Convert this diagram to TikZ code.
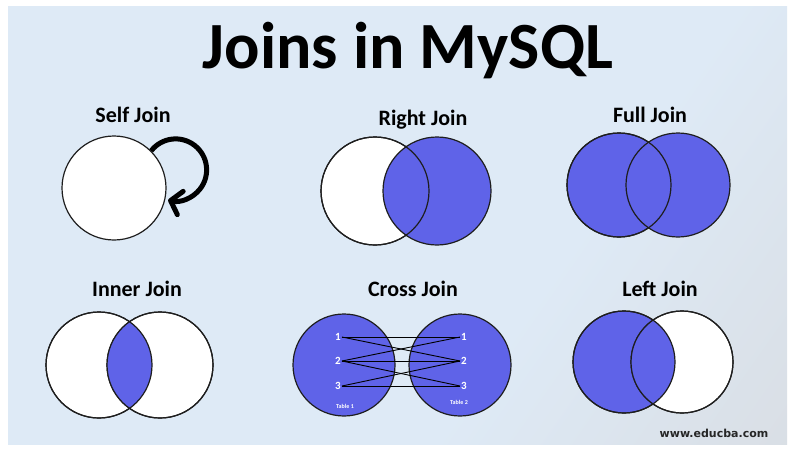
\documentclass[tikz,border=0pt]{standalone}
\usepackage{fontspec}
\setmainfont{Carlito}
\newfontfamily\webfont{DejaVu Sans}
\usepackage{tikz}
\usepackage{xcolor}
\usetikzlibrary{arrows.meta}
\definecolor{join-blue}{RGB}{95,99,232}
\definecolor{panel-blue}{RGB}{222,234,246}
\definecolor{panel-grey}{RGB}{214,215,218}
\definecolor{rim}{RGB}{30,30,30}
\pgfdeclarehorizontalshading{panel-shade}{100bp}{color(0bp)=(panel-blue); color(62bp)=(panel-blue); color(100bp)=(panel-grey)}
\tikzset{
    venn-white/.style = {circle, draw=rim, fill=white, line width=1.2pt, minimum size=104pt, inner sep=0pt},
    venn-blue/.style = {venn-white, fill=join-blue},
    rim-line/.style = {draw=rim, line width=1.2pt},
    join-title/.style = {anchor=base, font=\fontsize{22}{26}\selectfont\bfseries},
    row-number/.style = {text=white, font=\fontsize{11}{12}\selectfont\bfseries, inner sep=1pt},
    table-name/.style = {text=white, font=\fontsize{6}{7}\selectfont\bfseries},
    cross-line/.style = {draw=black, line width=0.9pt},
}

\begin{document}
\begin{tikzpicture}[x=1pt, y=-1pt]
\fill[white] (0,0) rectangle (797,453);
\shade[shading=panel-shade, shading angle=-35] (8,6) rectangle (787,444);
\useasboundingbox (0,0) rectangle (797,453);

\node[anchor=base, font=\fontsize{66}{70}\selectfont\bfseries] (title) at (408,68) {Joins in MySQL};

% self join
\node[join-title] (self-title) at (133,122) {Self Join};
\node[venn-white] (self) at (114,188) {};
\draw[line width=5pt, -{Straight Barb[length=10pt,width=24pt,round]}]
    (self.45) arc[start angle=142, end angle=-104, radius=31pt];

% right join
\node[join-title] (right-title) at (423,125) {Right Join};
\node[venn-white, minimum size=108pt] (right-a) at (375,191) {};
\node[venn-blue, minimum size=108pt] (right-b) at (437,191) {};
\draw[rim-line] (right-a.center) circle (54pt);

% full join
\node[join-title] (full-title) at (650,122) {Full Join};
\node[venn-blue] (full-a) at (619,185) {};
\node[venn-blue] (full-b) at (678,185) {};
\draw[rim-line] (full-a.center) circle (52pt);

% inner join
\node[join-title] (inner-title) at (137,296) {Inner Join};
\node[venn-white, minimum size=106pt] (inner-a) at (99,365) {};
\node[venn-white, minimum size=106pt] (inner-b) at (160,365) {};
\begin{scope}
    \clip (inner-a.center) circle (53pt);
    \fill[join-blue] (inner-b.center) circle (53pt);
\end{scope}
\draw[rim-line] (inner-a.center) circle (53pt) (inner-b.center) circle (53pt);

% cross join
\node[join-title] (cross-title) at (413,296) {Cross Join};
\node[venn-blue, minimum size=102pt] (table-a) at (344,365) {};
\node[venn-blue, minimum size=102pt] (table-b) at (460,365) {};
\foreach \i/\y in {1/337,2/361,3/386} {
    \node[row-number] (a\i) at (338,\y) {\i};
    \node[row-number] (b\i) at (464,\y) {\i};
}
\foreach \s/\t in {1/1,1/2,2/1,2/2,2/3,3/2,3/3}
    \draw[cross-line] (a\s.east) -- (b\t.west);
\node[table-name] (table-a-name) at (345,406) {Table 1};
\node[table-name] (table-b-name) at (459,402) {Table 2};

% left join
\node[join-title] (left-title) at (660,296) {Left Join};
\node[venn-blue, minimum size=102pt] (left-a) at (624,362) {};
\node[venn-white, minimum size=102pt] (left-b) at (682,362) {};
\begin{scope}
    \clip (left-b.center) circle (51pt);
    \fill[join-blue] (left-a.center) circle (51pt);
\end{scope}
\draw[rim-line] (left-a.center) circle (51pt) (left-b.center) circle (51pt);

\node[anchor=base, font=\webfont\fontsize{11}{13}\selectfont\bfseries, text=black!85] (site) at (714,437) {www.educba.com};
\end{tikzpicture}
\end{document}
